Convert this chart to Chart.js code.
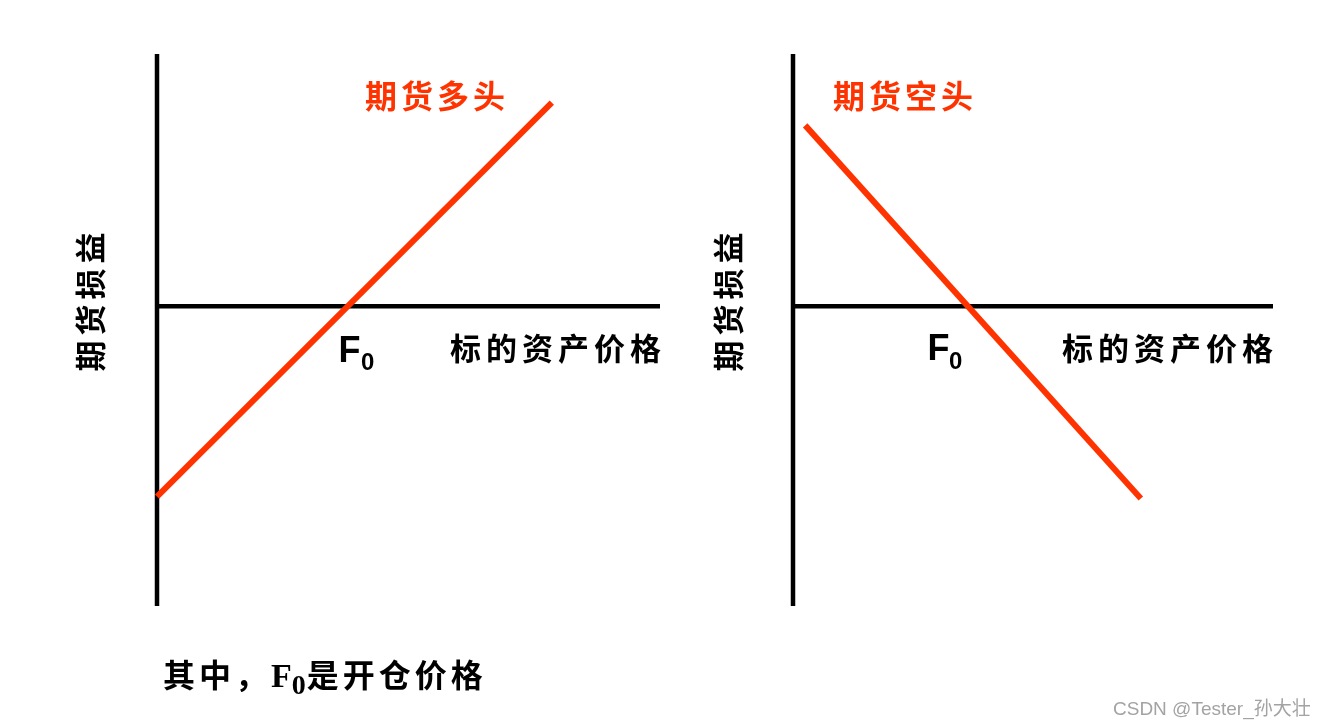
<!DOCTYPE html>
<html>
<head>
<meta charset="utf-8">
<script src="https://cdn.jsdelivr.net/npm/chart.js@4.4.1/dist/chart.umd.min.js"></script>
<style>
html,body{margin:0;padding:0;background:#fff;}
body{width:1323px;height:728px;overflow:hidden;position:relative;}
#w1{position:absolute;left:0;top:0;width:700px;height:728px;}
#w2{position:absolute;left:700px;top:0;width:623px;height:728px;}
.note{position:absolute;left:163px;top:657px;height:32px;line-height:32px;white-space:nowrap;color:#000;
  font-family:"Noto Sans CJK SC";font-weight:700;font-size:32px;letter-spacing:4px;}
.note .f{font-family:"Liberation Serif";font-weight:700;font-size:34px;letter-spacing:0;}
.note .s{font-family:"Liberation Serif";font-weight:700;font-size:28px;position:relative;top:7px;letter-spacing:0;margin-right:1px;}
.wm{position:absolute;left:1113px;top:699px;line-height:19px;font-family:"Liberation Sans","Noto Sans CJK SC";font-size:19px;color:#a3a3a3;white-space:nowrap;}
</style>
</head>
<body>
<div id="w1"><canvas id="c1"></canvas></div>
<div id="w2"><canvas id="c2"></canvas></div>
<div class="note">其中，<span class="f">F</span><span class="s">0</span>是开仓价格</div>
<div class="wm">CSDN @Tester_孙大壮</div>
<script>
// ---- data ----
const longTitle = '期货多头';
const shortTitle = '期货空头';
const xAxisTitle = '标的资产价格';
const yAxisTitle = '期货损益';
const strikeLabel = 'F';
const strikeSub = '0';

const longPrices = [0, 208];
const longPayoff = [-100, 107];
const shortPrices = [7, 200];
const shortPayoff = [95, -101];

const leftPriceRange = [0, 265];
const rightPriceRange = [0, 276];
const payoffRange = [-157.5, 132.5];

// ---- helpers ----
const RED = '#ff3300';
const CJK = '"Noto Sans CJK SC"';

function pts(xs, ys){ return xs.map((x,i)=>({x:x, y:ys[i]})); }

function drawSpaced(ctx, text, x, y, spacing){
  let cx = x;
  for (const ch of text){
    ctx.fillText(ch, cx, y);
    cx += ctx.measureText(ch).width + spacing;
  }
}
function spacedWidth(ctx, text, spacing){
  let w = 0; const arr=[...text];
  arr.forEach((ch,i)=>{ w += ctx.measureText(ch).width + (i<arr.length-1?spacing:0); });
  return w;
}

const labelPlugin = {
  id: 'labels',
  afterDatasetsDraw(chart, args, opts){
    const ctx = chart.ctx;
    const xs = chart.scales.x, ys = chart.scales.y;
    (opts.items||[]).forEach(it=>{
      const px = xs.getPixelForValue(it.x), py = ys.getPixelForValue(it.y);
      ctx.save();
      ctx.fillStyle = it.color || '#000';
      ctx.font = it.font;
      ctx.textBaseline = it.baseline || 'alphabetic';
      ctx.textAlign = 'left';
      const sp = it.spacing || 0;
      if (it.rotate){
        ctx.translate(px, py);
        ctx.rotate(it.rotate);
        const w = spacedWidth(ctx, it.text, sp);
        drawSpaced(ctx, it.text, -w/2, 0, sp);
      } else {
        drawSpaced(ctx, it.text, px, py, sp);
      }
      ctx.restore();
    });
  }
};

function makeChart(id, prices, payoff, xRange, pad, items){
  return new Chart(document.getElementById(id), {
    type: 'line',
    data: {
      datasets: [
        { data: pts(prices, payoff), borderColor: RED, borderWidth: 6, borderCapStyle: 'butt',
          pointRadius: 0, order: 0, clip: false, tension: 0 },
        { data: pts(xRange, [0, 0]), borderColor: '#000', borderWidth: 4.5, borderCapStyle: 'butt',
          pointRadius: 0, order: 1, clip: false },
        { data: pts([0, 0], payoffRange), borderColor: '#000', borderWidth: 4.5, borderCapStyle: 'butt',
          pointRadius: 0, order: 2, clip: false }
      ]
    },
    options: {
      responsive: true, maintainAspectRatio: false, animation: false,
      layout: { padding: pad },
      scales: {
        x: { type: 'linear', display: false, min: xRange[0], max: xRange[1] },
        y: { type: 'linear', display: false, min: payoffRange[0], max: payoffRange[1] }
      },
      plugins: { legend: { display: false }, tooltip: { enabled: false }, labels: { items: items } }
    },
    plugins: [labelPlugin]
  });
}

makeChart('c1', longPrices, longPayoff, leftPriceRange,
  { left: 157, right: 40, top: 54, bottom: 122 },
  [
    { text: longTitle, x: 109.6, y: 110.5, font: `700 32px ${CJK}`, color: RED, baseline: 'middle', spacing: 4 },
    { text: strikeLabel, x: 95.6, y: -29.3, font: '700 36px "Liberation Sans"' },
    { text: strikeSub, x: 107.5, y: -33.7, font: '700 24px "Liberation Sans"' },
    { text: xAxisTitle, x: 154.4, y: -22, font: `700 31px ${CJK}`, baseline: 'middle', spacing: 5 },
    { text: yAxisTitle, x: -35.3, y: 2.2, font: `700 31px ${CJK}`, baseline: 'middle', spacing: 5, rotate: -Math.PI/2 }
  ]);

makeChart('c2', shortPrices, shortPayoff, rightPriceRange,
  { left: 93, right: 50, top: 54, bottom: 122 },
  [
    { text: shortTitle, x: 23, y: 110.5, font: `700 32px ${CJK}`, color: RED, baseline: 'middle', spacing: 4 },
    { text: strikeLabel, x: 77.4, y: -28.4, font: '700 36px "Liberation Sans"' },
    { text: strikeSub, x: 89.7, y: -32.9, font: '700 24px "Liberation Sans"' },
    { text: xAxisTitle, x: 154.7, y: -22, font: `700 31px ${CJK}`, baseline: 'middle', spacing: 5 },
    { text: yAxisTitle, x: -37.4, y: 2.2, font: `700 31px ${CJK}`, baseline: 'middle', spacing: 5, rotate: -Math.PI/2 }
  ]);
</script>
</body>
</html>
